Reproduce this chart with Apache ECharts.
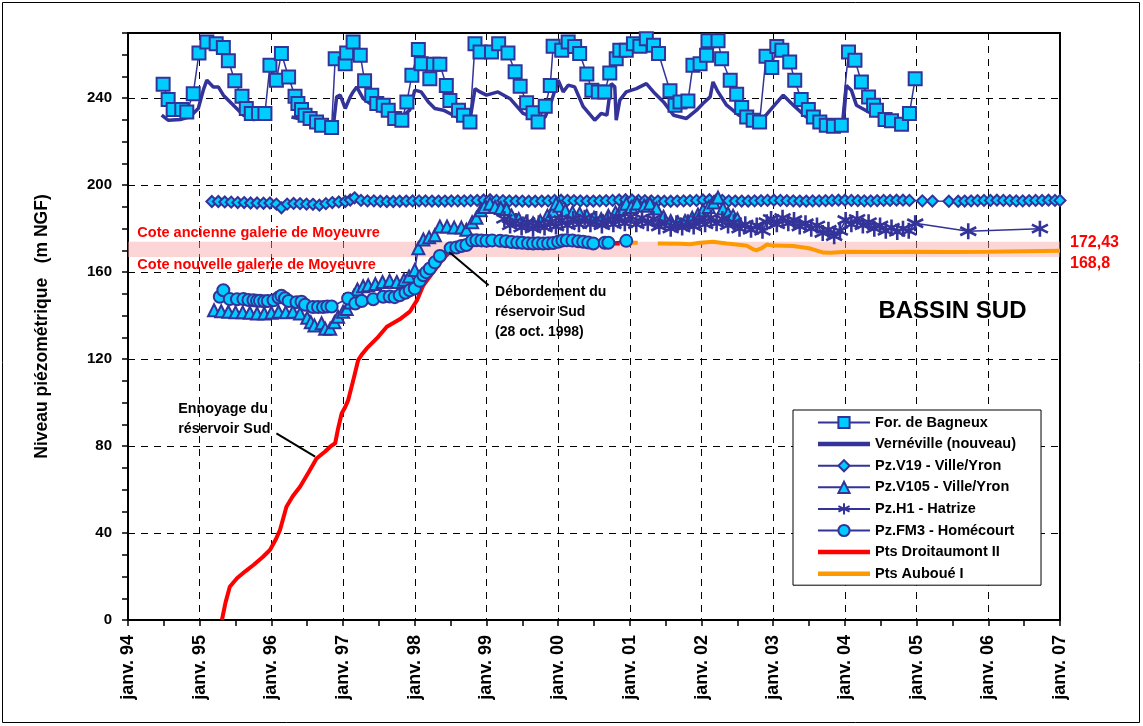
<!DOCTYPE html>
<html><head><meta charset="utf-8">
<script src="https://cdn.jsdelivr.net/npm/echarts/dist/echarts.min.js"></script>
<style>html,body{margin:0;padding:0;background:#fff}#c{width:1143px;height:726px}</style>
</head><body><div id="c"></div><script>
// ---------- DATA (year as decimal, level in m NGF) ----------
const xTickYears = [1994,1995,1996,1997,1998,1999,2000,2001,2002,2003,2004,2005,2006,2007];
const seriesNames = ['For. de Bagneux','Vernéville (nouveau)','Pz.V19 - Ville/Yron','Pz.V105 - Ville/Yron','Pz.H1 - Hatrize','Pz.FM3 - Homécourt','Pts Droitaumont II','Pts Auboué I'];

const bagneux = [[1994.49,246.4],[1994.56,239.4],[1994.63,234.8],[1994.75,234.8],[1994.82,233.7],[1994.91,242.1],[1994.99,260.8],[1995.10,265.9],[1995.23,265.1],[1995.33,263.3],[1995.40,257.2],[1995.49,248],[1995.59,240.9],[1995.65,235.3],[1995.72,233],[1995.82,233],[1995.91,233],[1995.98,255.2],[1996.07,248.3],[1996.14,260.6],[1996.24,249.8],[1996.33,240.9],[1996.37,237.6],[1996.42,234.8],[1996.47,232.2],[1996.54,230.7],[1996.63,229.1],[1996.70,227.6],[1996.84,226.5],[1996.89,258.2],[1997.03,255.9],[1997.05,260.8],[1997.14,265.9],[1997.24,259.8],[1997.30,248],[1997.40,241.4],[1997.47,237.6],[1997.56,236.8],[1997.63,234.5],[1997.72,230.7],[1997.82,229.9],[1997.89,238.3],[1997.96,250.6],[1998.05,262.4],[1998.09,255.9],[1998.21,249],[1998.26,255.6],[1998.35,255.6],[1998.44,245.9],[1998.49,239],[1998.61,234.5],[1998.68,232.2],[1998.77,229.1],[1998.84,265.1],[1998.91,261.3],[1999.07,261.3],[1999.17,265.1],[1999.30,260.8],[1999.40,252.2],[1999.47,245.5],[1999.56,237.9],[1999.65,233.3],[1999.72,229.1],[1999.82,236.3],[1999.89,245.9],[1999.93,263.9],[2000.05,262.1],[2000.14,265.9],[2000.23,263.8],[2000.30,260.6],[2000.40,251.1],[2000.47,243.7],[2000.56,242.9],[2000.65,242.9],[2000.72,251.6],[2000.81,258.2],[2000.86,262.1],[2000.95,262.1],[2001.05,265.1],[2001.14,263.9],[2001.23,267.4],[2001.33,264.4],[2001.40,260.6],[2001.56,243.4],[2001.63,236.8],[2001.70,238.3],[2001.81,238.7],[2001.88,255.2],[2001.98,255.9],[2002.07,259.8],[2002.09,266.4],[2002.23,266.4],[2002.28,258.2],[2002.40,248.3],[2002.49,241.8],[2002.56,235.7],[2002.63,231.4],[2002.72,229.9],[2002.81,229.1],[2002.90,259.3],[2002.98,254.1],[2003.05,263.8],[2003.12,262.1],[2003.23,256.7],[2003.30,248.3],[2003.39,239.4],[2003.49,234.8],[2003.56,231.4],[2003.65,229.1],[2003.74,227.6],[2003.84,227.1],[2003.95,227.6],[2004.05,261.3],[2004.14,257.5],[2004.23,247.5],[2004.33,240.6],[2004.40,236.8],[2004.44,234.5],[2004.56,230.2],[2004.65,229.6],[2004.79,228.0],[2004.90,233],[2004.98,249]];

const verneville = [[1994.47,232.2],[1994.56,229.9],[1994.73,230.2],[1994.86,231.4],[1994.98,235.3],[1995.05,243.7],[1995.10,248.3],[1995.19,245.2],[1995.26,245.2],[1995.33,241.4],[1995.47,236.8],[1995.61,232.2],[1995.75,230.2],[1995.89,230.7],[1996.10,null],[1996.28,231.4],[1996.49,229.9],[1996.68,227.6],[1996.86,226.1],[1996.91,240.6],[1996.96,241.4],[1997.03,235.3],[1997.10,240.6],[1997.14,242.9],[1997.19,245.2],[1997.28,239.8],[1997.47,235.3],[1997.61,232.2],[1997.79,230.7],[1997.93,234.5],[1998.00,243.7],[1998.09,242.9],[1998.19,238.3],[1998.28,235.3],[1998.40,234.5],[1998.49,233],[1998.63,230.7],[1998.77,229.9],[1998.84,244.4],[1998.91,242.9],[1999.00,241.4],[1999.16,242.9],[1999.33,239.8],[1999.51,233],[1999.70,230.7],[1999.82,231.4],[1999.91,239.1],[2000.00,248.3],[2000.07,242.9],[2000.14,246],[2000.23,245.2],[2000.35,236.1],[2000.51,229.9],[2000.60,233],[2000.68,232.2],[2000.74,246.7],[2000.79,245.2],[2000.81,229.9],[2000.86,239.1],[2000.95,242.9],[2001.09,244.4],[2001.23,246.7],[2001.33,242.9],[2001.47,238.3],[2001.61,232.2],[2001.79,230.7],[2001.93,234.5],[2002.02,237.6],[2002.12,240.6],[2002.16,247.5],[2002.23,242.9],[2002.35,236.8],[2002.52,232.2],[2002.72,229.9],[2002.84,229.9],[2003.00,236.1],[2003.14,241.4],[2003.28,236.8],[2003.46,231.4],[2003.65,229.9],[2003.84,229.1],[2003.98,229.1],[2004.02,245.9],[2004.09,243.7],[2004.16,236.8],[2004.33,233.7],[2004.49,231.4]];

const pzV19 = [[1995.17,192.5],[1995.26,192.5],[1995.35,192.3],[1995.44,192.2],[1995.53,192.0],[1995.62,192.0],[1995.71,191.8],[1995.80,191.8],[1995.89,191.7],[1995.98,191.8],[1996.07,191.3],[1996.14,189.6],[1996.22,191.3],[1996.31,191.6],[1996.40,191.5],[1996.49,191.3],[1996.58,191.2],[1996.67,190.8],[1996.76,191.5],[1996.85,192.0],[1996.94,192.3],[1997.03,192.5],[1997.10,193.2],[1997.16,194.2],[1997.25,193.0],[1997.34,192.8],[1997.43,192.8],[1997.52,192.6],[1997.61,192.5],[1997.70,192.5],[1997.79,192.6],[1997.88,192.7],[1997.97,192.8],[1998.06,192.8],[1998.15,192.8],[1998.24,192.7],[1998.33,192.7],[1998.42,192.7],[1998.51,192.8],[1998.60,192.8],[1998.69,192.8],[1998.78,192.9],[1998.87,193.0],[1998.96,193.2],[1999.05,193.3],[1999.14,193.0],[1999.23,192.9],[1999.32,192.8],[1999.41,192.7],[1999.50,192.7],[1999.59,192.6],[1999.68,192.6],[1999.77,192.7],[1999.86,192.8],[1999.95,193.0],[2000.04,193.1],[2000.13,193.0],[2000.22,192.9],[2000.31,192.8],[2000.40,192.7],[2000.49,192.7],[2000.58,192.8],[2000.67,192.9],[2000.76,193.0],[2000.85,193.2],[2000.94,193.3],[2001.03,193.2],[2001.12,193.0],[2001.21,192.9],[2001.30,192.8],[2001.39,192.7],[2001.48,192.6],[2001.57,192.6],[2001.66,192.7],[2001.75,192.8],[2001.84,192.9],[2001.93,193.0],[2002.02,193.2],[2002.11,193.3],[2002.20,193.1],[2002.29,193.0],[2002.38,192.8],[2002.47,192.7],[2002.56,192.7],[2002.65,192.7],[2002.74,192.8],[2002.83,192.9],[2002.92,193.0],[2003.01,193.1],[2003.10,193.0],[2003.19,192.9],[2003.28,192.8],[2003.37,192.7],[2003.46,192.7],[2003.55,192.8],[2003.64,192.8],[2003.73,192.9],[2003.82,193.0],[2003.91,193.1],[2004.00,193.1],[2004.09,193.0],[2004.18,192.9],[2004.27,192.8],[2004.36,192.8],[2004.45,192.9],[2004.54,193.0],[2004.63,193.0],[2004.72,193.1],[2004.81,193.1],[2004.90,193.0],[2005.08,192.8],[2005.22,192.7],[2005.45,192.6],[2005.58,192.6],[2005.67,192.7],[2005.76,192.8],[2005.85,192.9],[2005.94,193.0],[2006.03,193.0],[2006.12,193.1],[2006.21,193.0],[2006.30,192.9],[2006.39,192.8],[2006.48,192.8],[2006.57,192.9],[2006.66,193.0],[2006.75,193.0],[2006.84,193.1],[2006.93,193.0],[2007.00,193.0]];

const pzV105 = [[1995.20,142.5],[1995.30,142.0],[1995.40,141.8],[1995.50,141.5],[1995.60,141.5],[1995.70,141.3],[1995.80,141.0],[1995.90,141.0],[1996.00,141.3],[1996.10,141.8],[1996.20,141.5],[1996.30,141.8],[1996.40,141.0],[1996.50,139.0],[1996.55,137.0],[1996.60,135.5],[1996.70,136.5],[1996.75,134.0],[1996.82,134.0],[1996.88,137.0],[1996.93,139.5],[1997.00,141.8],[1997.05,143.0],[1997.10,146.0],[1997.15,149.0],[1997.20,152.0],[1997.28,153.5],[1997.35,154.0],[1997.45,154.5],[1997.55,155.5],[1997.65,156.0],[1997.75,155.5],[1997.85,156.5],[1997.92,158.0],[1998.00,161.0],[1998.05,171.0],[1998.12,175.0],[1998.20,176.0],[1998.28,177.0],[1998.35,181.0],[1998.45,181.0],[1998.55,180.5],[1998.65,180.5],[1998.72,179.5],[1998.80,183.0],[1998.86,185.0],[1998.92,188.5],[1998.97,190.0],[1999.05,191.5],[1999.12,190.0],[1999.20,189.5],[1999.28,189.0],[1999.35,186.0],[1999.45,184.5],[1999.55,183.0],[1999.65,182.5],[1999.75,183.5],[1999.85,186.0],[1999.93,188.0],[1999.97,191.5],[2000.02,190.5],[2000.10,188.5],[2000.20,187.5],[2000.30,187.0],[2000.40,186.0],[2000.50,185.0],[2000.60,184.5],[2000.70,186.0],[2000.80,187.5],[2000.88,189.0],[2000.95,191.5],[2001.02,190.0],[2001.10,191.6],[2001.20,190.5],[2001.28,191.6],[2001.37,189.3],[2001.47,185.5],[2001.57,183.5],[2001.67,183.0],[2001.77,183.5],[2001.87,185.0],[2001.95,186.5],[2002.02,188.5],[2002.10,190.0],[2002.17,192.0],[2002.23,194.3],[2002.30,189.3],[2002.37,187.0],[2002.44,186.0],[2002.50,184.5]];

const pzH1 = [[1999.25,184.5],[1999.33,181.5],[1999.41,183.5],[1999.49,180.5],[1999.57,183],[1999.65,180],[1999.73,182.5],[1999.81,180.5],[1999.89,183],[1999.97,181],[2000.05,184],[2000.13,181.5],[2000.21,184.5],[2000.29,182],[2000.37,185],[2000.45,182],[2000.53,184.5],[2000.61,181.5],[2000.69,184],[2000.77,182],[2000.85,185],[2000.93,182.5],[2001.01,185.5],[2001.09,182],[2001.17,185],[2001.25,182.5],[2001.33,184.5],[2001.41,181],[2001.49,183],[2001.57,180],[2001.65,182.5],[2001.73,180.5],[2001.81,183],[2001.89,181],[2001.97,184],[2002.05,182],[2002.13,185],[2002.21,182.5],[2002.29,184.5],[2002.37,181.5],[2002.45,183],[2002.53,180],[2002.61,182],[2002.69,179.5],[2002.77,181.5],[2002.85,179],[2002.91,183],[2002.97,184.5],[2003.05,182],[2003.13,185],[2003.21,182.5],[2003.29,184],[2003.37,181],[2003.45,182.5],[2003.53,180],[2003.61,181.5],[2003.69,178],[2003.77,179.5],[2003.85,176.5],[2003.93,179],[2004.01,184],[2004.09,182],[2004.17,184.5],[2004.25,181.5],[2004.33,183],[2004.41,180],[2004.49,181.5],[2004.57,179],[2004.65,180.5],[2004.73,178.5],[2004.81,180],[2004.89,179],[2004.98,182.5],[2005.72,178.8],[2006.72,180]];

const pzFM3 = [[1995.28,148.7],[1995.33,151.7],[1995.42,147.6],[1995.52,147.5],[1995.61,147.6],[1995.68,147.2],[1995.75,147.1],[1995.80,146.8],[1995.84,146.8],[1995.90,146.6],[1995.95,146.7],[1996.03,147.1],[1996.10,148.3],[1996.14,149.1],[1996.19,148.0],[1996.24,146.7],[1996.35,146.2],[1996.42,146.4],[1996.47,145.0],[1996.58,144.0],[1996.65,144.0],[1996.72,144.0],[1996.78,144.2],[1996.84,144.2],[1997.07,147.9],[1997.17,145.6],[1997.26,146.7],[1997.42,147.5],[1997.56,148.7],[1997.65,148.8],[1997.72,148.5],[1997.79,149.4],[1997.87,150.5],[1997.93,151.7],[1998.00,152.5],[1998.07,156.0],[1998.12,158.6],[1998.16,160.0],[1998.21,161.7],[1998.28,164.5],[1998.35,167.4],[1998.50,171.0],[1998.58,171.3],[1998.65,172.0],[1998.72,172.5],[1998.80,174.5],[1998.86,174.7],[1998.93,174.6],[1999.00,174.4],[1999.08,174.6],[1999.19,174.4],[1999.27,174.2],[1999.35,173.9],[1999.43,173.6],[1999.50,173.5],[1999.58,173.3],[1999.65,173.2],[1999.72,173.3],[1999.79,173.2],[1999.86,173.3],[1999.93,173.4],[2000.00,174.0],[2000.06,174.5],[2000.12,174.7],[2000.20,174.5],[2000.28,174.2],[2000.35,174.0],[2000.42,173.6],[2000.49,173.2],[2000.65,173.5],[2000.70,173.5],[2000.95,174.4]];

const droitaumont = [[1995.31,0],[1995.36,8],[1995.42,15.3],[1995.52,19.2],[1995.64,22.5],[1995.75,25.3],[1995.88,29],[1995.98,32.2],[1996.06,37],[1996.12,41.4],[1996.21,52.1],[1996.30,57],[1996.40,61.3],[1996.52,68],[1996.63,74.3],[1996.75,77.5],[1996.82,79.7],[1996.89,81.3],[1996.93,88],[1996.98,95],[1997.03,98],[1997.07,101],[1997.14,110],[1997.21,119.5],[1997.27,122.5],[1997.33,124.9],[1997.47,129.5],[1997.61,134.9],[1997.79,138.3],[1997.93,141.8],[1998.03,147],[1998.12,154],[1998.20,157.5],[1998.28,161],[1998.38,165.5],[1998.47,168.6],[1998.55,170.5],[1998.65,172],[1998.80,173.5],[1999.00,173.7],[1999.50,173.3],[2000.00,173.5],[2000.50,173],[2000.86,173.2]];

const auboue = [[2000.97,173.5],[2001.11,173.5],[2001.25,null],[2001.39,173.2],[2001.70,173.1],[2001.84,172.8],[2001.98,173.5],[2002.16,174],[2002.35,173.2],[2002.55,172.5],[2002.63,172.2],[2002.72,170.5],[2002.77,170.1],[2002.84,171],[2002.91,172.7],[2003.00,172.2],[2003.28,172],[2003.50,171],[2003.60,170],[2003.70,169],[2003.80,168.9],[2004.02,169.4],[2004.50,169.3],[2004.95,169.4],[2005.50,169.3],[2006.00,169.4],[2006.50,169.6],[2007.00,169.8]];

// gallery levels (band) and their labels
const galleryBand = [167, 174];
const galleryLabels = ['172,43', '168,8'];
const galleryNames = ['Cote ancienne galerie de Moyeuvre', 'Cote nouvelle galerie de Moyeuvre'];

// ---------- STYLE ----------
const BLUE = '#333399', CYAN = '#00CCFF', FONT = '"Liberation Sans", Arial, sans-serif';
const asterisk = 'path://M10,0L10,20M1.34,5L18.66,15M1.34,15L18.66,5';
const barIcon = 'path://M0,0L52,0L52,4.5L0,4.5Z';

function markerSeries(name, data, symbol, size, z) {
  return { name, type: 'line', data, symbol, symbolSize: size, z,
    lineStyle: { color: BLUE, width: 1.5 },
    itemStyle: { color: CYAN, borderColor: BLUE, borderWidth: 2 },
    emphasis: { disabled: true }, animation: false };
}

const h1 = markerSeries(seriesNames[4], pzH1, asterisk, 16, 4);
h1.itemStyle = { color: BLUE, borderColor: BLUE, borderWidth: 2.6 };

const lineOnly = new Set([seriesNames[1], seriesNames[6], seriesNames[7]]);

const option = {
  backgroundColor: '#fff',
  animation: false,
  grid: { left: 128, right: 83, top: 33, bottom: 106, show: true, borderColor: '#000', borderWidth: 2 },
  legend: {
    data: seriesNames.map(n => lineOnly.has(n) ? { name: n, icon: barIcon } : { name: n }),
    orient: 'vertical', left: 793, top: 410,
    padding: [5, 25, 4, 24], itemWidth: 52, itemHeight: 14, itemGap: 6.6,
    backgroundColor: '#fff', borderColor: '#000', borderWidth: 1, borderRadius: 0,
    selectedMode: false,
    textStyle: { fontFamily: FONT, fontWeight: 'bold', fontSize: 14.5, color: '#000' }
  },
  xAxis: {
    type: 'value', min: xTickYears[0], max: xTickYears[xTickYears.length - 1], interval: 1,
    axisLine: { lineStyle: { color: '#000', width: 2 } },
    axisTick: { length: 6, lineStyle: { color: '#000', width: 1.5 } },
    minorTick: { show: true, splitNumber: 2, length: 6, lineStyle: { color: '#000', width: 1.5 } },
    splitLine: { show: true, lineStyle: { color: '#000', width: 1, type: [7, 6] } },
    axisLabel: { rotate: 90, margin: 15, fontFamily: FONT, fontWeight: 'bold', fontSize: 18, color: '#000',
      formatter: v => 'janv. ' + String(v).slice(2) }
  },
  yAxis: [
    { type: 'value', min: 0, max: 270, interval: 10, position: 'left',
      axisLine: { show: true, lineStyle: { color: '#000', width: 2 } },
      axisTick: { show: true, length: 6, lineStyle: { color: '#000', width: 1.5 } },
      axisLabel: { show: false }, splitLine: { show: false } },
    { type: 'value', min: 0, max: 270, interval: 40, position: 'left',
      axisLine: { show: false }, axisTick: { show: false },
      splitLine: { show: true, lineStyle: { color: '#000', width: 1, type: [7, 6] } },
      axisLabel: { showMaxLabel: false, margin: 16, fontFamily: FONT, fontWeight: 'bold', fontSize: 15, color: '#000',
        formatter: v => (v % 40 === 0 ? String(v) : '') },
      name: 'Niveau piézométrique   (m NGF)', nameLocation: 'middle', nameGap: 77,
      nameTextStyle: { fontFamily: FONT, fontWeight: 'bold', fontSize: 17.5, color: '#000' } }
  ],
  series: [
    markerSeries(seriesNames[0], bagneux, 'rect', 13, 5),
    { name: seriesNames[1], type: 'line', data: verneville, symbol: 'none', z: 3, connectNulls: false,
      lineStyle: { color: BLUE, width: 3.5 }, itemStyle: { color: BLUE }, emphasis: { disabled: true } },
    markerSeries(seriesNames[2], pzV19, 'diamond', 11, 4),
    markerSeries(seriesNames[3], pzV105, 'triangle', 12, 4),
    h1,
    markerSeries(seriesNames[5], pzFM3, 'circle', 12, 4),
    { name: seriesNames[6], type: 'line', data: droitaumont, symbol: 'none', z: 2,
      lineStyle: { color: '#FF0000', width: 4 }, itemStyle: { color: '#FF0000' }, emphasis: { disabled: true } },
    { name: seriesNames[7], type: 'line', data: auboue, symbol: 'none', z: 2, connectNulls: false,
      lineStyle: { color: '#FF9900', width: 4 }, itemStyle: { color: '#FF9900' }, emphasis: { disabled: true },
      markArea: { silent: true, itemStyle: { color: 'rgba(248,165,165,0.45)' },
        data: [[{ yAxis: galleryBand[0] }, { yAxis: galleryBand[1] }]] } }
  ]
};

const chart = echarts.init(document.getElementById('c'), null, { renderer: 'canvas' });
chart.setOption(option);

// ---------- ANNOTATIONS (anchored in data units) ----------
const P = (x, y) => chart.convertToPixel({ xAxisIndex: 0, yAxisIndex: 0 }, [x, y]);
function txt(text, pos, size, color, align, vAlign, lh) {
  return { type: 'text', z: 100, x: pos[0], y: pos[1],
    style: { text, fill: color, font: 'bold ' + size + 'px ' + FONT, textAlign: align,
      textVerticalAlign: vAlign, verticalAlign: vAlign, lineHeight: lh || size * 1.2 } };
}
function seg(a, b) {
  return { type: 'line', z: 100, shape: { x1: a[0], y1: a[1], x2: b[0], y2: b[1] },
    style: { stroke: '#000', lineWidth: 2 } };
}
const graphics = [
  { type: 'rect', z: 100, shape: { x: 2.5, y: 2.5, width: 1137, height: 720 }, style: { fill: null, stroke: '#000', lineWidth: 1 } },
  txt(galleryNames[0], P(1994.13, 178.2), 14.5, '#FF0000', 'left', 'middle'),
  txt(galleryNames[1], P(1994.13, 163.5), 14.5, '#FF0000', 'left', 'middle'),
  txt(galleryLabels[0], P(2007.14, 173.8), 16, '#FF0000', 'left', 'middle'),
  txt(galleryLabels[1], P(2007.14, 164.1), 16, '#FF0000', 'left', 'middle'),
  txt('BASSIN SUD', P(2005.5, 142.1), 24, '#000', 'center', 'middle'),
  txt('Débordement du\nréservoir Sud\n(28 oct. 1998)', P(1999.12, 155.4), 14, '#000', 'left', 'top', 20),
  seg(P(1998.48, 169.3), P(1999.03, 154.0)),
  txt('Ennoyage du\nréservoir Sud', P(1994.70, 101.6), 14.3, '#000', 'left', 'top', 20),
  seg(P(1996.07, 85.8), P(1996.61, 75.1))
];
chart.setOption({ graphic: graphics });
</script></body></html>
